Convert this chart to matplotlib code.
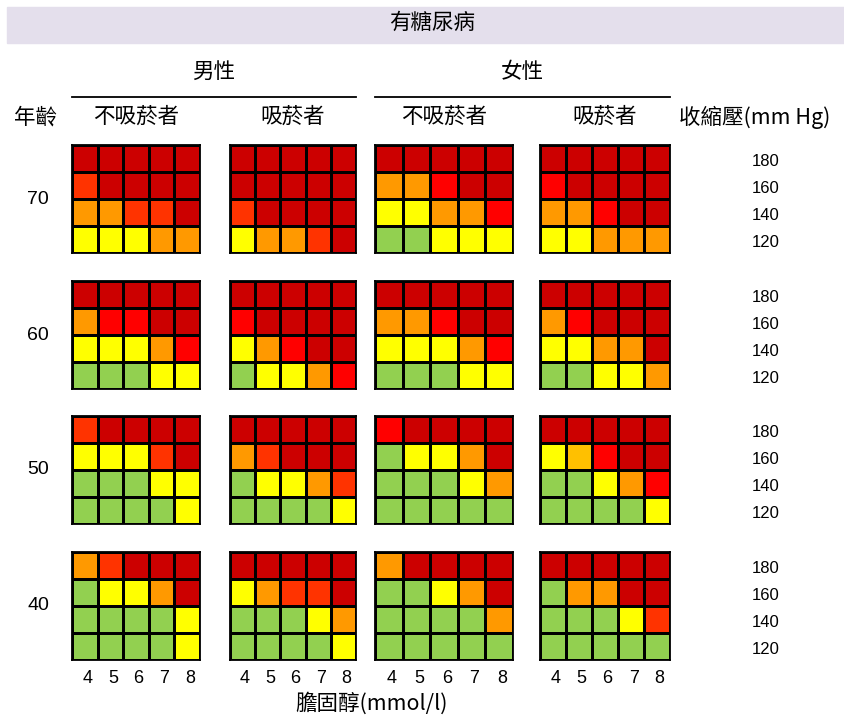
import numpy as np
import matplotlib
matplotlib.use("Agg")
import matplotlib.pyplot as plt
from matplotlib.colors import ListedColormap
from matplotlib.patches import Rectangle
from matplotlib.lines import Line2D

plt.rcParams['font.family'] = ['Noto Sans CJK TC', 'DejaVu Sans']
NUM_FONT = ['Liberation Sans', 'DejaVu Sans']

# -----------------------
# data
# -----------------------
title = "有糖尿病"
sexes = ["男性", "女性"]
groups = ["不吸菸者", "吸菸者", "不吸菸者", "吸菸者"]
ages = [70, 60, 50, 40]
bp_labels = [180, 160, 140, 120]
chol_labels = [4, 5, 6, 7, 8]

# risk level per cell, rows = SBP 180..120, cols = cholesterol 4..8
# G green, Y yellow, A amber, O orange, R orange-red, E red, D dark red
age70 = [
    ["DDDDD", "RDDDD", "OORRD", "YYYOO"],   # male non-smoker
    ["DDDDD", "DDDDD", "RDDDD", "YOORD"],   # male smoker
    ["DDDDD", "OOEDD", "YYOOE", "GGYYY"],   # female non-smoker
    ["DDDDD", "EDDDD", "OOEDD", "YYOOO"],   # female smoker
]
age60 = [
    ["DDDDD", "OEEDD", "YYYOE", "GGGYY"],
    ["DDDDD", "EDDDD", "YOEDD", "GYYOE"],
    ["DDDDD", "OOEDD", "YYYOE", "GGGYY"],
    ["DDDDD", "OEDDD", "YYOOD", "GGYYO"],
]
age50 = [
    ["RDDDD", "YYYRD", "GGGYY", "GGGGY"],
    ["DDDDD", "ORDDD", "GYYOR", "GGGGY"],
    ["EDDDD", "GYYOD", "GGGYO", "GGGGG"],
    ["DDDDD", "YAEDD", "GGYOE", "GGGGY"],
]
age40 = [
    ["ORDDD", "GYYOD", "GGGGY", "GGGGY"],
    ["DDDDD", "YORRD", "GGGYO", "GGGGY"],
    ["ODDDD", "GGYOD", "GGGGO", "GGGGG"],
    ["DDDDD", "GOODD", "GGGYR", "GGGGG"],
]
tables = [age70, age60, age50, age40]

codes = "GYAORED"
cmap = ListedColormap(["#92D050", "#FFFF00", "#FFC000", "#FF9900",
                       "#FF3300", "#FF0000", "#CC0000"])

# -----------------------
# layout (pixels)
# -----------------------
W, H = 845, 718
grid_x = [72, 230, 375, 540]
grid_w = [128, 126, 138, 130]
grid_y = [145, 281, 416, 552]
grid_h = 108


def fx(x):
    return x / W


def fy(y):
    return 1 - y / H


fig = plt.figure(figsize=(W / 100, H / 100), dpi=100)

fig.patches.append(Rectangle((fx(7), fy(43)), fx(838), 36 / H,
                             transform=fig.transFigure, color="#E4DFEC", zorder=0))
fig.text(fx(432), fy(23), title, ha="center", va="center", fontsize=15.5)

for k, s in enumerate(sexes):
    x0 = grid_x[2 * k]
    x1 = grid_x[2 * k + 1] + grid_w[2 * k + 1]
    fig.text(fx((x0 + x1) / 2), fy(72), s, ha="center", va="center", fontsize=15.5)
    fig.add_artist(Line2D([fx(x0), fx(x1)], [fy(97), fy(97)], color="black", lw=1.3))

fig.text(fx(36), fy(117), "年齡", ha="center", va="center", fontsize=15.5)
for j, g in enumerate(groups):
    fig.text(fx(grid_x[j] + grid_w[j] / 2), fy(117), g, ha="center", va="center", fontsize=15.5)
fig.text(fx(755), fy(117), "收縮壓(mm Hg)", ha="center", va="center", fontsize=15.5)

for i, age in enumerate(ages):
    fig.text(fx(38), fy(grid_y[i] + grid_h / 2), str(age), ha="center", va="center",
             fontsize=14, family=NUM_FONT)
    for j in range(4):
        mat = np.array([[codes.index(c) for c in row] for row in tables[i][j]])
        ax = fig.add_axes([fx(grid_x[j]), fy(grid_y[i] + grid_h), fx(grid_w[j]), grid_h / H])
        ax.pcolormesh(mat, cmap=cmap, vmin=-0.5, vmax=6.5, edgecolors="black", linewidth=1)
        ax.set_xlim(0, 5)
        ax.set_ylim(4, 0)
        for sp in ax.spines.values():
            sp.set_linewidth(1.3)
        ax.tick_params(length=0)
        ax.set_xticks([])
        ax.set_yticks([])
        if i == len(ages) - 1:
            ax.set_xticks(np.arange(5) + 0.6, chol_labels, fontsize=13, family=NUM_FONT)
            ax.tick_params(axis="x", pad=7)
        if j == 3:
            ax.yaxis.tick_right()
            ax.set_yticks(np.arange(4) + 0.55, bp_labels, fontsize=12, family=NUM_FONT)
            ax.tick_params(axis="y", pad=59)

fig.text(fx(372), fy(703), "膽固醇(mmol/l)", ha="center", va="center", fontsize=15.5)

plt.savefig("out.png", dpi=100)
